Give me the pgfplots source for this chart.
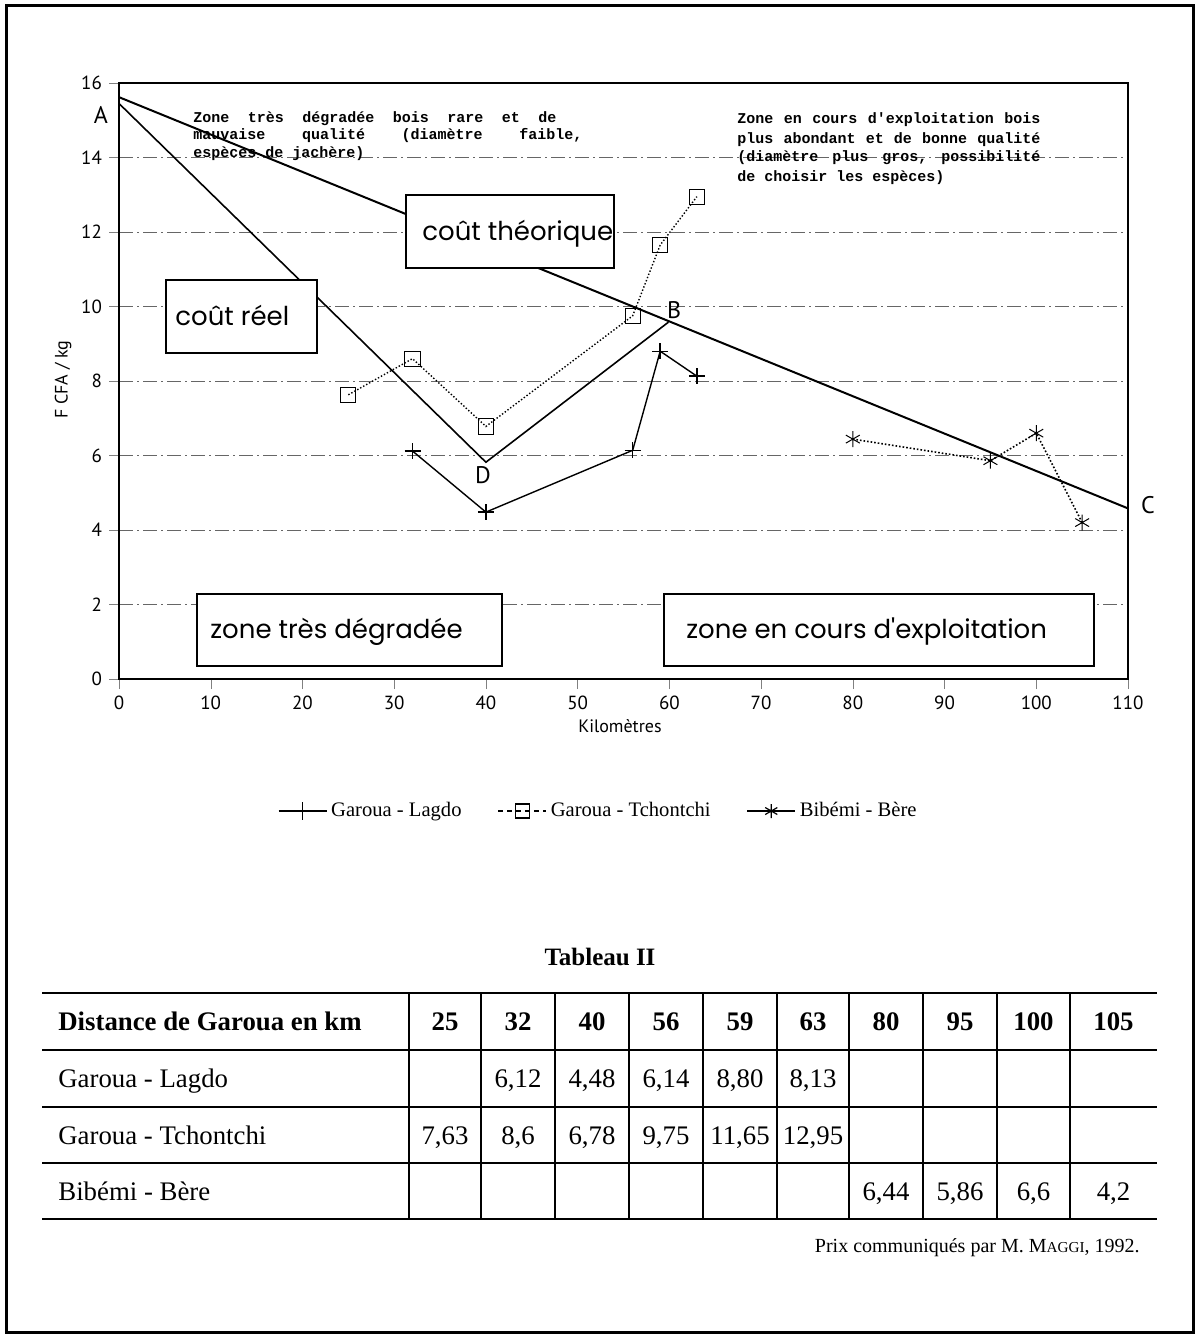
\documentclass[border=0pt]{standalone}
\usepackage{fontspec}
\usepackage{pgfplots}
\pgfplotsset{compat=1.18}
\setmainfont{Liberation Serif}
\newfontfamily\tickfont{PT Sans}
\newfontfamily\boxfont{Poppins}
\newfontfamily\monofont{Liberation Mono}
% stretchable word space for the justified annotation lines
\newcommand\J{\hskip 0.6em plus 1fill\relax}

\begin{document}
\begin{tikzpicture}
\useasboundingbox (0,0) rectangle (599.5pt,-669pt);

\begin{axis}[
  at={(59.5pt,-339.5pt)}, anchor=south west,
  scale only axis, width=504.5pt, height=298pt,
  xmin=0, xmax=110, ymin=0, ymax=16,
  xtick={0,10,...,110}, ytick={0,2,...,16},
  tick align=outside, tick pos=left,
  major tick length=5pt,
  axis line style={line width=0.8pt},
  ymajorgrids,
  grid style={line width=0.5pt, black!60, dash pattern=on 7pt off 2pt on 1pt off 2pt},
  tick label style={font=\tickfont\fontsize{9.5}{10}\selectfont},
  /pgf/number format/assume math mode=true,
  xlabel={Kilomètres}, ylabel={F CFA / kg},
  label style={font=\tickfont\fontsize{9}{10}\selectfont},
  xlabel style={at={(axis description cs:0.4965,0)}, anchor=center, yshift=-23.5pt},
  ylabel style={at={(axis description cs:0,0.502)}, anchor=center, yshift=28pt},
  clip=false,
  legend style={at={(axis description cs:0.476,-0.2215)}, anchor=center,
    draw=none, fill=none, legend columns=3,
    font=\fontsize{10.3}{12}\selectfont,
    /tikz/every even column/.append style={column sep=16pt}},
  legend image code/.code={\draw[mark repeat=2,mark phase=2,#1]
    plot coordinates {(0pt,0pt) (12pt,0pt) (24pt,0pt)};},
]
% cout theorique A -> C
\addplot[black, line width=1pt, forget plot] coordinates {(0,15.62) (60,9.6) (110,4.58)};
% cout reel A -> D -> B
\addplot[black, line width=0.8pt, forget plot] coordinates {(0,15.45) (40,5.82) (59.9,9.58)};
% Garoua - Lagdo
\addplot[black, line width=0.7pt, mark=+, mark size=4pt, forget plot] coordinates {
  (32,6.12) (40,4.48) (56,6.14) (59,8.80) (63,8.13)};
% Garoua - Tchontchi
\addplot[black, line width=0.7pt, densely dotted, mark=square, mark size=3.8pt,
  mark options={solid, line width=0.5pt}, forget plot] coordinates {
  (25,7.63) (32,8.6) (40,6.78) (56,9.75) (59,11.65) (63,12.95)};
% Bibemi - Bere
\addplot[black, line width=0.8pt, densely dotted, mark=asterisk, mark size=4pt,
  mark options={solid, line width=0.5pt}, forget plot] coordinates {
  (80,6.44) (95,5.86) (100,6.6) (105,4.2)};

\addlegendimage{black, line width=0.6pt, mark=+, mark size=4.5pt}
\addlegendimage{black, line width=0.6pt, dash pattern=on 2.5pt off 2pt, mark=square, mark size=3.5pt, mark options={solid}}
\addlegendimage{black, line width=0.6pt, mark=asterisk, mark size=3.5pt}
\legend{Garoua - Lagdo, Garoua - Tchontchi, Bibémi - Bère}
\end{axis}

\begin{scope}[x=0.5pt, y=-0.5pt]
% outer frame
\draw[line width=1.5pt] (6,6) rectangle (1193,1332);

% point letters
\begin{scope}[font=\tickfont\fontsize{12}{12}\selectfont]
\node at (101,115) {A};
\node at (674,310) {B};
\node at (1148,505) {C};
\node at (483,475) {D};
\end{scope}

% zone annotations
\begin{scope}[font=\monofont\bfseries\fontsize{7.5}{9}\selectfont, inner sep=0pt]
\node[anchor=base west] at (193,123) {\makebox[181.5pt][l]{Zone\J très\J dégradée\J bois\J rare\J et\J de}};
\node[anchor=base west] at (193,140) {\makebox[194.5pt][l]{mauvaise\J qualité\J (diamètre\J faible,}};
\node[anchor=base west] at (193,157) {espèces de jachère)};
\node[anchor=base west] at (737,124) {\makebox[151.5pt][l]{Zone\J en\J cours\J d'exploitation\J bois}};
\node[anchor=base west] at (737,143) {\makebox[151.5pt][l]{plus\J abondant\J et\J de\J bonne\J qualité}};
\node[anchor=base west] at (737,162) {\makebox[151.5pt][l]{(diamètre\J plus\J gros,\J possibilité}};
\node[anchor=base west] at (737,181) {de choisir les espèces)};
\end{scope}

% boxes
\begin{scope}[line width=0.8pt]
\draw[fill=white] (406,195) rectangle (614,268);
\draw[fill=white] (166,280) rectangle (317,353);
\draw[fill=white] (197,594) rectangle (502,666);
\draw[fill=white] (664,594) rectangle (1094,666);
\end{scope}
\begin{scope}[font=\boxfont\fontsize{13}{15}\selectfont, inner sep=0pt]
\node[anchor=base west] at (422,240) {coût théorique};
\node[anchor=base west] at (175,325) {coût réel};
\node[anchor=base west] at (210,638) {zone très dégradée};
\node[anchor=base west] at (686,638) {zone en cours d'exploitation};
\end{scope}

% Tableau II
\node[anchor=base, font=\bfseries\fontsize{12.5}{14}\selectfont] at (600,965) {Tableau II};
\draw[line width=1.1pt] (42,993) -- (1157,993);
\draw[line width=1.1pt] (42,1219) -- (1157,1219);
\foreach \y in {1050,1107,1163} \draw[line width=0.7pt] (42,\y) -- (1157,\y);
\foreach \x in {409,481,555,629,703,777,849,923,997,1070} \draw[line width=0.7pt] (\x,993) -- (\x,1219);

\begin{scope}[font=\fontsize{13.4}{15}\selectfont, inner sep=0pt]
\node[anchor=base west, font=\bfseries\fontsize{13.4}{15}\selectfont] at (58,1030) {Distance de Garoua en km};
\foreach \x/\v in {445/25,518/32,592/40,666/56,740/59,813/63,886/80,960/95,1033.5/100,1113.5/105}
  \node[anchor=base, font=\bfseries\fontsize{13.4}{15}\selectfont] at (\x,1030) {\v};
\node[anchor=base west] at (58,1087) {Garoua - Lagdo};
\foreach \x/\v in {518/{6,12},592/{4,48},666/{6,14},740/{8,80},813/{8,13}}
  \node[anchor=base] at (\x,1087) {\v};
\node[anchor=base west] at (58,1144) {Garoua - Tchontchi};
\foreach \x/\v in {445/{7,63},518/{8,6},592/{6,78},666/{9,75},740/{11,65},813/{12,95}}
  \node[anchor=base] at (\x,1144) {\v};
\node[anchor=base west] at (58,1200) {Bibémi - Bère};
\foreach \x/\v in {886/{6,44},960/{5,86},1033.5/{6,6},1113.5/{4,2}}
  \node[anchor=base] at (\x,1200) {\v};
\end{scope}

\node[anchor=base east, inner sep=0pt, font=\fontsize{10}{12}\selectfont] at (1140,1252)
  {Prix communiqués par M. M{\fontsize{7.6}{9}\selectfont AGGI}, 1992.};
\end{scope}
\end{tikzpicture}
\end{document}
